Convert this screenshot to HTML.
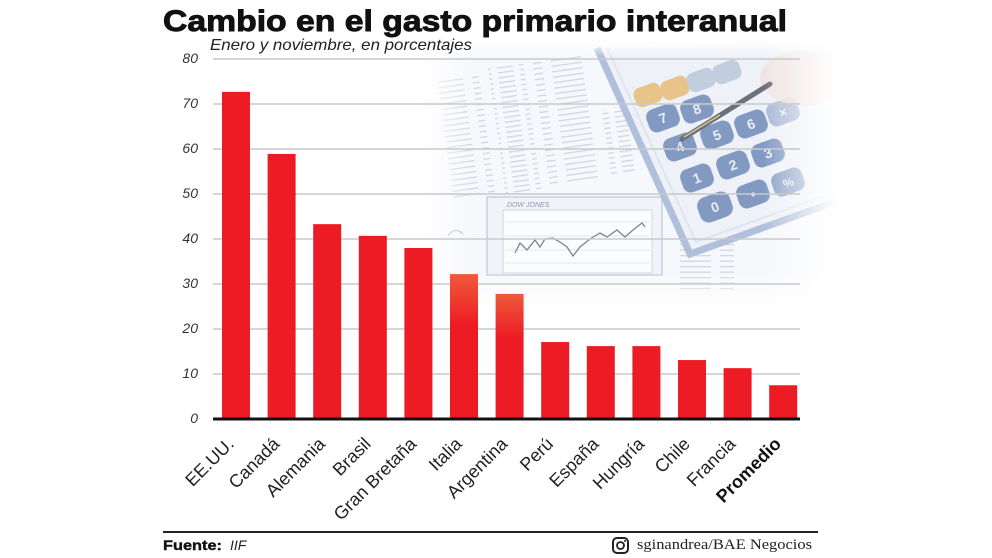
<!DOCTYPE html>
<html>
<head>
<meta charset="utf-8">
<style>
  html,body{margin:0;padding:0;background:#fff;}
  body{width:992px;height:558px;overflow:hidden;}
  svg{display:block;}
</style>
</head>
<body>
<svg width="992" height="558" viewBox="0 0 992 558" xmlns="http://www.w3.org/2000/svg">
  <defs>
    <pattern id="txt" width="40" height="5.5" patternUnits="userSpaceOnUse">
      <rect x="0" y="2" width="31" height="1.3" fill="#8d97ab"/>
    </pattern>
    <pattern id="txt2" width="22" height="5" patternUnits="userSpaceOnUse">
      <rect x="0" y="2" width="16" height="1.3" fill="#8d97ab"/>
    </pattern>
    <linearGradient id="gH" gradientUnits="userSpaceOnUse" x1="420" y1="0" x2="992" y2="0">
      <stop offset="0" stop-color="#000"/>
      <stop offset="0.09" stop-color="#fff"/>
      <stop offset="0.60" stop-color="#fff"/>
      <stop offset="0.73" stop-color="#000"/>
      <stop offset="1" stop-color="#000"/>
    </linearGradient>
    <linearGradient id="gV" gradientUnits="userSpaceOnUse" x1="0" y1="40" x2="0" y2="330">
      <stop offset="0" stop-color="#000"/>
      <stop offset="0.06" stop-color="#fff"/>
      <stop offset="0.80" stop-color="#fff"/>
      <stop offset="0.93" stop-color="#000"/>
      <stop offset="1" stop-color="#000"/>
    </linearGradient>
    <mask id="mH" maskUnits="userSpaceOnUse" x="0" y="0" width="992" height="558">
      <rect x="0" y="0" width="992" height="558" fill="url(#gH)"/>
    </mask>
    <mask id="mV" maskUnits="userSpaceOnUse" x="0" y="0" width="992" height="558">
      <rect x="0" y="0" width="992" height="558" fill="url(#gV)"/>
    </mask>
    <clipPath id="photoClip"><rect x="400" y="40" width="500" height="300"/></clipPath>
    <linearGradient id="barFade" x1="0" y1="0" x2="0" y2="1">
      <stop offset="0" stop-color="#ee5a3c"/>
      <stop offset="0.35" stop-color="#ed1c24"/>
      <stop offset="1" stop-color="#ed1c24"/>
    </linearGradient>
  </defs>

  <!-- Background photo (faded) -->
  <g clip-path="url(#photoClip)">
   <g mask="url(#mH)">
    <g mask="url(#mV)">
      <rect x="420" y="40" width="420" height="290" fill="#f7f8fb"/>
      <g opacity="0.35" transform="rotate(-8 540 130)">
        <rect x="445" y="66" width="42" height="120" fill="url(#txt)"/>
        <rect x="497" y="62" width="36" height="128" fill="url(#txt2)"/>
        <rect x="542" y="60" width="58" height="126" fill="url(#txt)"/>
        <rect x="604" y="118" width="24" height="68" fill="url(#txt2)"/>
      </g>
      <g opacity="0.35">
        <rect x="672" y="232" width="62" height="60" fill="url(#txt)"/>
      </g>
      <rect x="487" y="197" width="175" height="78" fill="#f1f3f8" stroke="#c6cfdf" stroke-width="1.5"/>
      <rect x="503" y="210" width="149" height="63" fill="#fbfcfd" stroke="#d0d7e3" stroke-width="1"/>
      <g stroke="#e2e6ed" stroke-width="1">
        <line x1="505" y1="222" x2="650" y2="222"/>
        <line x1="505" y1="236" x2="650" y2="236"/>
        <line x1="505" y1="250" x2="650" y2="250"/>
        <line x1="505" y1="263" x2="650" y2="263"/>
      </g>
      <text x="507" y="207" font-family="Liberation Sans, sans-serif" font-size="7" font-style="italic" fill="#8a94a8">DOW JONES</text>
      <polyline fill="none" stroke="#7a8497" stroke-width="1.3" points="515,253 520,243 527,250 535,240 540,247 545,239 553,238 560,242 567,247 573,256 580,247 590,239 600,233 607,237 617,230 625,237 633,230 642,223 645,227"/>
      <path d="M448,236 Q455,226 463,234" fill="none" stroke="#b3bbc9" stroke-width="1.2"/>
      <polygon points="597,48 690,254 840,200 840,40" fill="#eef1f7"/>
      <polyline points="597,48 690,254 840,200" fill="none" stroke="#b0bfdb" stroke-width="7"/>
      <polyline points="607,48 696,242 840,190" fill="none" stroke="#dfe5f0" stroke-width="2"/>
      <g font-family="Liberation Sans, sans-serif" font-weight="bold" font-size="14" fill="#e9eef7" text-anchor="middle">
        <g transform="translate(648,95) rotate(-20)"><rect x="-14" y="-10" width="28" height="20" rx="7" fill="#e8c48a"/></g>
        <g transform="translate(675,88) rotate(-20)"><rect x="-14" y="-10" width="28" height="20" rx="7" fill="#e8c48a"/></g>
        <g transform="translate(701,80) rotate(-20)"><rect x="-14" y="-10" width="28" height="20" rx="7" fill="#c3cde0"/></g>
        <g transform="translate(727,72) rotate(-20)"><rect x="-14" y="-10" width="28" height="20" rx="7" fill="#c3cde0"/></g>
        <g transform="translate(663,118) rotate(-20)"><rect x="-16" y="-12" width="32" height="24" rx="8" fill="#8299c2"/><text y="5">7</text></g>
        <g transform="translate(697,109) rotate(-20)"><rect x="-16" y="-12" width="32" height="24" rx="8" fill="#8299c2"/><text y="5">8</text></g>
        <g transform="translate(680,147) rotate(-20)"><rect x="-16" y="-12" width="32" height="24" rx="8" fill="#8299c2"/><text y="5">4</text></g>
        <g transform="translate(717,135) rotate(-20)"><rect x="-16" y="-12" width="32" height="24" rx="8" fill="#8299c2"/><text y="5">5</text></g>
        <g transform="translate(751,124) rotate(-20)"><rect x="-16" y="-12" width="32" height="24" rx="8" fill="#8299c2"/><text y="5">6</text></g>
        <g transform="translate(783,112) rotate(-20)"><rect x="-16" y="-12" width="32" height="24" rx="8" fill="#a9b8d3"/><text y="5">×</text></g>
        <g transform="translate(697,178) rotate(-20)"><rect x="-16" y="-12" width="32" height="24" rx="8" fill="#8299c2"/><text y="5">1</text></g>
        <g transform="translate(733,165) rotate(-20)"><rect x="-16" y="-12" width="32" height="24" rx="8" fill="#8299c2"/><text y="5">2</text></g>
        <g transform="translate(768,153) rotate(-20)"><rect x="-16" y="-12" width="32" height="24" rx="8" fill="#8299c2"/><text y="5">3</text></g>
        <g transform="translate(715,207) rotate(-20)"><rect x="-17" y="-13" width="34" height="26" rx="9" fill="#8299c2"/><text y="5">0</text></g>
        <g transform="translate(753,194) rotate(-20)"><rect x="-16" y="-12" width="32" height="24" rx="8" fill="#8299c2"/><text y="5">•</text></g>
        <g transform="translate(788,182) rotate(-20)"><rect x="-16" y="-12" width="32" height="24" rx="8" fill="#8ea3c8"/><text y="5" font-size="12">%</text></g>
      </g>
      <ellipse cx="805" cy="78" rx="45" ry="28" fill="#efe1dd" opacity="0.8"/>
      <line x1="682" y1="139" x2="770" y2="84" stroke="#6b707b" stroke-width="5" stroke-linecap="round"/>
      <line x1="684" y1="137" x2="720" y2="115" stroke="#d9c48a" stroke-width="1.5"/>
    </g>
   </g>
  </g>

  <g stroke="#c9c9c9" stroke-width="1.5">
    <line x1="213" y1="59" x2="800" y2="59"/>
    <line x1="213" y1="104" x2="800" y2="104"/>
    <line x1="213" y1="149" x2="800" y2="149"/>
    <line x1="213" y1="194" x2="800" y2="194"/>
    <line x1="213" y1="239" x2="800" y2="239"/>
    <line x1="213" y1="284" x2="800" y2="284"/>
    <line x1="213" y1="329" x2="800" y2="329"/>
    <line x1="213" y1="374" x2="800" y2="374"/>
  </g>

  <g font-family="Liberation Sans, sans-serif" font-style="italic" font-size="14" fill="#333" text-anchor="end">
    <text x="198" y="63">80</text>
    <text x="198" y="108">70</text>
    <text x="198" y="153">60</text>
    <text x="198" y="198">50</text>
    <text x="198" y="243">40</text>
    <text x="198" y="288">30</text>
    <text x="198" y="333">20</text>
    <text x="198" y="378">10</text>
    <text x="198" y="423">0</text>
  </g>

  <g fill="#ed1c24">
    <rect x="222" y="91.85" width="28" height="327.15"/>
    <rect x="267.6" y="153.95" width="28" height="265.05"/>
    <rect x="313.2" y="224.15" width="28" height="194.85"/>
    <rect x="358.8" y="235.85" width="28" height="183.15"/>
    <rect x="404.4" y="248" width="28" height="171"/>
    <rect x="450" y="274.1" width="28" height="144.9" fill="url(#barFade)"/>
    <rect x="495.6" y="293.9" width="28" height="125.1" fill="url(#barFade)"/>
    <rect x="541.2" y="342.05" width="28" height="76.95"/>
    <rect x="586.8" y="346.1" width="28" height="72.9"/>
    <rect x="632.4" y="346.1" width="28" height="72.9"/>
    <rect x="678" y="360.05" width="28" height="58.95"/>
    <rect x="723.6" y="368.15" width="28" height="50.85"/>
    <rect x="769.2" y="385.25" width="28" height="33.75"/>
  </g>

  <line x1="213" y1="419" x2="800" y2="419" stroke="#111" stroke-width="3"/>

  <g font-family="Liberation Sans, sans-serif" font-size="18" fill="#222" text-anchor="end">
    <text transform="translate(235,445) rotate(-45)">EE.UU.</text>
    <text transform="translate(280.6,445) rotate(-45)">Canadá</text>
    <text transform="translate(326.2,445) rotate(-45)">Alemania</text>
    <text transform="translate(371.8,445) rotate(-45)">Brasil</text>
    <text transform="translate(417.4,445) rotate(-45)">Gran Bretaña</text>
    <text transform="translate(463,445) rotate(-45)">Italia</text>
    <text transform="translate(508.6,445) rotate(-45)">Argentina</text>
    <text transform="translate(554.2,445) rotate(-45)">Perú</text>
    <text transform="translate(599.8,445) rotate(-45)">España</text>
    <text transform="translate(645.4,445) rotate(-45)">Hungría</text>
    <text transform="translate(691,445) rotate(-45)">Chile</text>
    <text transform="translate(736.6,445) rotate(-45)">Francia</text>
    <text transform="translate(782.2,445) rotate(-45)" font-weight="bold" fill="#111">Promedio</text>
  </g>

  <text x="163" y="31" font-family="Liberation Sans, sans-serif" font-weight="bold" font-size="30" fill="#111" stroke="#111" stroke-width="0.9" textLength="624" lengthAdjust="spacingAndGlyphs">Cambio en el gasto primario interanual</text>
  <text x="210" y="50" font-family="Liberation Sans, sans-serif" font-style="italic" font-size="16" fill="#222" textLength="262" lengthAdjust="spacingAndGlyphs">Enero y noviembre, en porcentajes</text>

  <line x1="163" y1="532" x2="818" y2="532" stroke="#222" stroke-width="2"/>
  <text x="163" y="550" font-family="Liberation Sans, sans-serif" font-weight="bold" font-size="14" fill="#111" stroke="#111" stroke-width="0.4" textLength="59" lengthAdjust="spacingAndGlyphs">Fuente:</text>
  <text x="230" y="550" font-family="Liberation Sans, sans-serif" font-style="italic" font-size="14" fill="#222">IIF</text>

  <rect x="613" y="538" width="15" height="15" rx="4" fill="none" stroke="#222" stroke-width="2"/>
  <circle cx="620.5" cy="545.5" r="3.5" fill="none" stroke="#222" stroke-width="1.8"/>
  <circle cx="625" cy="541" r="1" fill="#222"/>
  <text x="637" y="549" font-family="Liberation Serif, serif" font-size="15" fill="#222" textLength="175" lengthAdjust="spacingAndGlyphs">sginandrea/BAE Negocios</text>
</svg>
</body>
</html>
